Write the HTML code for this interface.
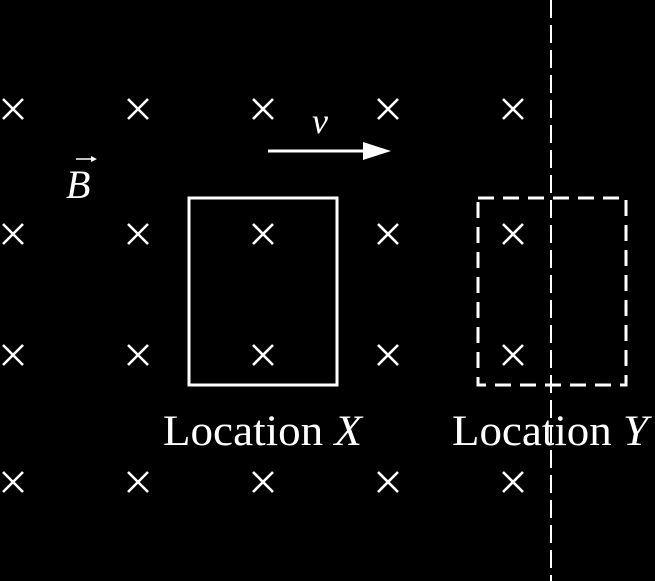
<!DOCTYPE html>
<html><head><meta charset="utf-8"><style>body{margin:0;background:#000}svg{display:block}</style></head>
<body>
<svg width="655" height="581" viewBox="0 0 655 581" font-family="Liberation Serif, serif" fill="#fff">
<rect width="655" height="581" fill="#000"/>
<g id="crosses" stroke="#fff" stroke-width="2.6"></g>
<line x1="551" y1="0" x2="551" y2="581" stroke="#fff" stroke-width="2" stroke-dasharray="18,7"/>
<rect x="189" y="198" width="148" height="187" fill="none" stroke="#fff" stroke-width="3"/>
<rect x="478" y="198" width="148" height="187" fill="none" stroke="#fff" stroke-width="3" stroke-dasharray="16,9"/>
<line x1="268" y1="151" x2="368" y2="151" stroke="#fff" stroke-width="3"/>
<polygon points="363,142 391,151 363,160"/>
<text x="312" y="133" font-size="36" font-style="italic">v</text>
<text x="66" y="198" font-size="40" font-style="italic">B</text>
<line x1="76" y1="159" x2="95" y2="159" stroke="#fff" stroke-width="1.5"/>
<polygon points="91,156 97,159 91,162"/>
<text x="163" y="445" font-size="43" textLength="199" lengthAdjust="spacingAndGlyphs">Location <tspan font-style="italic">X</tspan></text>
<text x="452" y="445" font-size="43" textLength="196" lengthAdjust="spacingAndGlyphs">Location <tspan font-style="italic">Y</tspan></text>
</svg>
<script>
const colsX=[13,138,263,388,513];
const rowsY=[109,234,355,482];
const g=document.getElementById('crosses');
const ns='http://www.w3.org/2000/svg';
rowsY.forEach(y=>colsX.forEach(x=>{
 const p=document.createElementNS(ns,'path');
 p.setAttribute('d',`M${x-10} ${y-10}L${x+10} ${y+10}M${x+10} ${y-10}L${x-10} ${y+10}`);
 
 
 g.appendChild(p);
}));
</script>
</body></html>
